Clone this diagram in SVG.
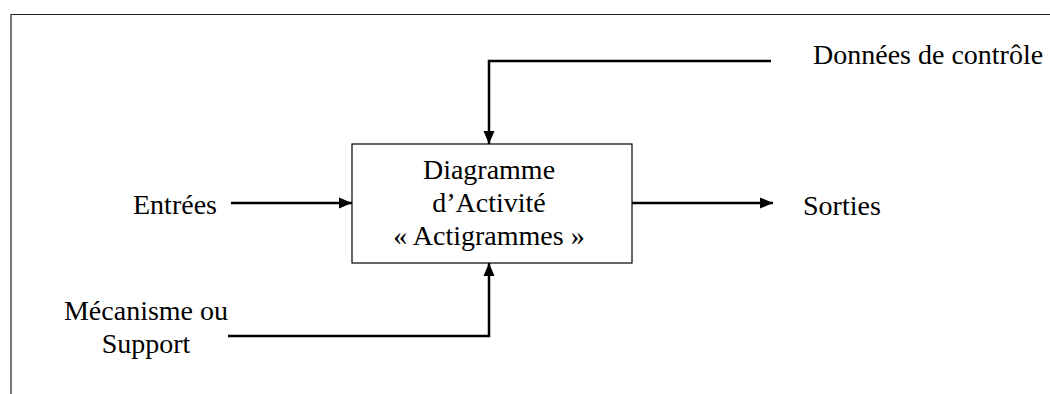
<svg xmlns="http://www.w3.org/2000/svg" width="1050" height="394" viewBox="0 0 1050 394">
<style>
.t{font-family:"Liberation Serif","Times New Roman",serif;font-size:28px;fill:#000}
.c{fill:none;stroke:#000;stroke-width:2.5}
</style>
<defs>
<marker id="ah" markerUnits="userSpaceOnUse" markerWidth="13" markerHeight="13" viewBox="0 0 13 13" refX="13" refY="6.5" orient="auto">
<path d="M0,1 L13,6.5 L0,12 Z" fill="#000"/>
</marker>
</defs>
<rect width="1050" height="394" fill="#fff"/>
<g id="frame">
<path d="M11,394 V14.5 H1050" fill="none" stroke="#222" stroke-width="1.2"/>
</g>
<g id="connectors">
<path class="c" d="M771,61 H489 V144" marker-end="url(#ah)"/>
<path class="c" d="M228,336 H489 V263" marker-end="url(#ah)"/>
<path class="c" d="M231,203 H352" marker-end="url(#ah)"/>
<path class="c" d="M632,203 H773" marker-end="url(#ah)"/>
</g>
<g id="activity">
<rect x="352" y="144" width="280" height="119" fill="#fff" stroke="#000" stroke-width="1.2"/>
<text class="t" x="489" y="179" text-anchor="middle">Diagramme</text>
<text class="t" x="489" y="212" text-anchor="middle">d’Activité</text>
<text class="t" x="489" y="245" text-anchor="middle">« Actigrammes »</text>
</g>
<g id="controle"><text class="t" x="813" y="64">Données de contrôle</text></g>
<g id="entrees"><text class="t" x="133" y="214">Entrées</text></g>
<g id="sorties"><text class="t" x="803" y="215">Sorties</text></g>
<g id="mecanisme">
<text class="t" x="146" y="320" text-anchor="middle">Mécanisme ou</text>
<text class="t" x="146" y="353" text-anchor="middle">Support</text>
</g>
</svg>
